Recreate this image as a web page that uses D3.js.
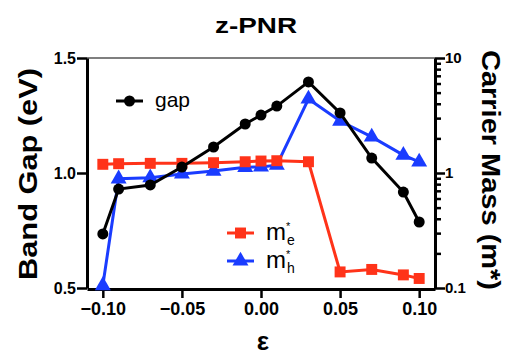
<!DOCTYPE html>
<html>
<head>
<meta charset="utf-8">
<script src="https://cdn.jsdelivr.net/npm/d3@7"></script>
<style>
  body { margin: 0; background: #fff; }
  svg { display: block; font-family: "Liberation Sans", Arial, Helvetica, sans-serif; }
</style>
</head>
<body>
<div id="chart"></div>
<script>
// strain values (x) and the three series
const strain = [-0.10, -0.09, -0.07, -0.05, -0.03, -0.01, 0.00, 0.01, 0.03, 0.05, 0.07, 0.09, 0.10];
const gap = [0.735, 0.93, 0.948, 1.026, 1.113, 1.213, 1.252, 1.291, 1.396, 1.261, 1.065, 0.917, 0.787];
const massE = [1.19, 1.205, 1.213, 1.213, 1.229, 1.253, 1.271, 1.279, 1.253, 0.138, 0.145, 0.130, 0.121];
const massH = [0.105, 0.89, 0.91, 0.98, 1.04, 1.12, 1.13, 1.17, 4.40, 2.83, 2.06, 1.43, 1.25];

const xTicks = [-0.10, -0.05, 0.00, 0.05, 0.10];
const gapTicks = [0.5, 1.0, 1.5];

const RED = "#ff3319";
const BLUE = "#1a3cff";

const W = 519, H = 355;
const margin = { top: 58, right: 84, bottom: 67, left: 87 };
const width = W - margin.left - margin.right;
const height = H - margin.top - margin.bottom;

const svg = d3.select("#chart").append("svg")
    .attr("width", W)
    .attr("height", H);

const g = svg.append("g")
    .attr("transform", `translate(${margin.left},${margin.top})`);

// scales
const x = d3.scaleLinear().domain([-0.11, 0.11]).range([0, width]);
const yGap = d3.scaleLinear().domain([0.5, 1.5]).range([height, 0]);
const yMass = d3.scaleLog().domain([0.1, 10]).range([height, 0]);

// top border
g.append("line")
    .attr("x1", 0).attr("x2", width)
    .attr("y1", 0).attr("y2", 0)
    .attr("stroke", "#555").attr("stroke-width", 1.5);

// x axis
const xAxis = g.append("g")
    .attr("transform", `translate(0,${height + 1})`)
    .call(d3.axisBottom(x).tickValues(xTicks).tickFormat(d3.format(".2f")).tickSize(9).tickPadding(4).tickSizeOuter(0));

// left axis
const leftAxis = g.append("g")
    .call(d3.axisLeft(yGap).tickValues(gapTicks).tickFormat(d3.format(".1f")).tickSize(10).tickPadding(1).tickSizeOuter(0));

// right axis, log with minor ticks
const isMajor = d => Math.abs(Math.log10(d) - Math.round(Math.log10(d))) < 1e-6;
const rightAxis = g.append("g")
    .attr("transform", `translate(${width},0)`)
    .call(d3.axisRight(yMass).tickValues(yMass.ticks()).tickFormat(d => isMajor(d) ? d3.format("~g")(d) : "").tickSize(6).tickPadding(3).tickSizeOuter(0));
rightAxis.selectAll(".tick line")
    .attr("x2", d => isMajor(d) ? 10 : 6);
rightAxis.selectAll(".tick text")
    .attr("x", 10);

[xAxis, leftAxis, rightAxis].forEach(a => {
    a.select(".domain").attr("stroke", "#000").attr("stroke-width", 3);
    a.selectAll(".tick line").attr("stroke", "#000").attr("stroke-width", 2.5);
    a.selectAll(".tick text")
        .attr("fill", "#000")
        .attr("font-family", "'Liberation Sans', Arial, sans-serif")
        .attr("font-weight", "bold");
});
xAxis.selectAll(".tick text").attr("font-size", 18);
leftAxis.selectAll(".tick text").attr("font-size", 16);
rightAxis.selectAll(".tick text").attr("font-size", 15);

// series
const lineGap = d3.line().x((d, i) => x(strain[i])).y(d => yGap(d));
const lineMass = d3.line().x((d, i) => x(strain[i])).y(d => yMass(d));

const tri = d3.symbol().type(d3.symbolTriangle).size(110);
const sq = d3.symbol().type(d3.symbolSquare).size(120);

// m*h (blue)
g.append("path").datum(massH)
    .attr("d", lineMass)
    .attr("fill", "none").attr("stroke", BLUE).attr("stroke-width", 3);
g.selectAll(".mh").data(massH).enter().append("path")
    .attr("class", "mh")
    .attr("d", tri)
    .attr("transform", (d, i) => `translate(${x(strain[i])},${yMass(d)})`)
    .attr("fill", BLUE);

// m*e (red)
g.append("path").datum(massE)
    .attr("d", lineMass)
    .attr("fill", "none").attr("stroke", RED).attr("stroke-width", 3);
g.selectAll(".me").data(massE).enter().append("path")
    .attr("class", "me")
    .attr("d", sq)
    .attr("transform", (d, i) => `translate(${x(strain[i])},${yMass(d)})`)
    .attr("fill", RED);

// gap (black)
g.append("path").datum(gap)
    .attr("d", lineGap)
    .attr("fill", "none").attr("stroke", "#000").attr("stroke-width", 3);
g.selectAll(".gap").data(gap).enter().append("circle")
    .attr("class", "gap")
    .attr("cx", (d, i) => x(strain[i]))
    .attr("cy", d => yGap(d))
    .attr("r", 5.5)
    .attr("fill", "#000");

// legends
const legGap = svg.append("g").attr("transform", "translate(116,101)");
legGap.append("line").attr("x1", 0).attr("x2", 27).attr("stroke", "#000").attr("stroke-width", 3);
legGap.append("circle").attr("cx", 13.5).attr("r", 5.5).attr("fill", "#000");
legGap.append("text").attr("x", 39).attr("y", 6).attr("font-size", 21).text("gap");

const legMass = [
    { y: 233, color: RED, sym: sq, sub: "e" },
    { y: 261, color: BLUE, sym: tri, sub: "h" }
];
legMass.forEach(l => {
    const lg = svg.append("g").attr("transform", `translate(227,${l.y})`);
    lg.append("line").attr("x1", 0).attr("x2", 27).attr("stroke", l.color).attr("stroke-width", 3);
    lg.append("path").attr("d", l.sym).attr("transform", "translate(13.5,0)").attr("fill", l.color);
    lg.append("text").attr("x", 39).attr("y", 7).attr("font-size", 24).text("m");
    lg.append("text").attr("x", 59).attr("y", -3).attr("font-size", 11).text("*");
    lg.append("text").attr("x", 60).attr("y", 12).attr("font-size", 14).text(l.sub);
});

// title and axis labels
svg.append("text")
    .attr("x", 256).attr("y", 33)
    .attr("text-anchor", "middle")
    .attr("font-size", 22).attr("font-weight", "bold")
    .attr("textLength", 82).attr("lengthAdjust", "spacingAndGlyphs")
    .text("z-PNR");

svg.append("text")
    .attr("transform", "translate(37,174) rotate(-90)")
    .attr("text-anchor", "middle")
    .attr("font-size", 25).attr("font-weight", "bold")
    .attr("textLength", 212).attr("lengthAdjust", "spacingAndGlyphs")
    .text("Band Gap (eV)");

svg.append("text")
    .attr("transform", "translate(482,170) rotate(90)")
    .attr("text-anchor", "middle")
    .attr("font-size", 25).attr("font-weight", "bold")
    .attr("textLength", 240).attr("lengthAdjust", "spacingAndGlyphs")
    .text("Carrier Mass (m*)");

svg.append("text")
    .attr("x", 263).attr("y", 350)
    .attr("text-anchor", "middle")
    .attr("font-size", 26).attr("font-weight", "bold")
    .text("ε");
</script>
</body>
</html>
